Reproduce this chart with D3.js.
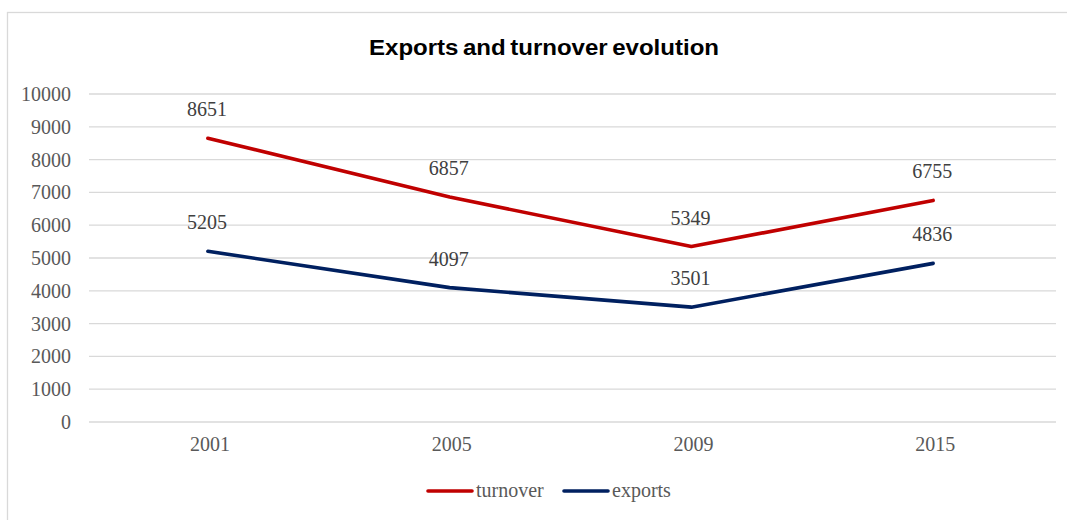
<!DOCTYPE html>
<html>
<head>
<meta charset="utf-8">
<script src="https://cdn.jsdelivr.net/npm/d3@7"></script>
<style>
    body { margin: 0; background: #fff; }
    .axis text { font-family: 'Liberation Serif', serif; font-size: 20px; fill: #595959; }
    .axis path, .axis line { display: none; }
    .grid line { stroke: #d9d9d9; stroke-width: 1.3; }
    .label { font-family: 'Liberation Serif', serif; font-size: 20px; fill: #404040; }
</style>
</head>
<body>
<svg id="chart" width="1067" height="520"></svg>
<script>
const years = ['2001', '2005', '2009', '2015'];
const turnover = [8651, 6857, 5349, 6755];
const exportsData = [5205, 4097, 3501, 4836];
const yTicks = [0, 1000, 2000, 3000, 4000, 5000, 6000, 7000, 8000, 9000, 10000];

const series = [
    { name: 'turnover', values: turnover, color: '#c00000' },
    { name: 'exports', values: exportsData, color: '#002060' }
];

const margin = { top: 94, right: 11, bottom: 98, left: 89 };
const w = 1067;
const h = 520;
const width = w - margin.left - margin.right;
const height = h - margin.top - margin.bottom;

const svg = d3.select('#chart');

// outer frame
svg.append('rect')
    .attr('x', 7.5).attr('y', 12.5)
    .attr('width', 1070).attr('height', 520)
    .attr('fill', 'none')
    .attr('stroke', '#d9d9d9')
    .attr('stroke-width', 1.3);

svg.append('text')
    .attr('x', 369).attr('y', 55)
    .attr('textLength', 350)
    .attr('lengthAdjust', 'spacingAndGlyphs')
    .style('font-family', 'Liberation Sans, Arial, sans-serif')
    .style('font-weight', 'bold')
    .style('font-size', '22px')
    .style('word-spacing', '-2px')
    .attr('fill', '#000')
    .text('Exports and turnover evolution');

const g = svg.append('g').attr('transform', `translate(${margin.left},${margin.top})`);

const x = d3.scaleBand().domain(years).range([0, width]);
const y = d3.scaleLinear().domain([0, 10000]).range([height, 0]);

g.append('g').attr('class', 'grid')
    .selectAll('line')
    .data(yTicks)
    .enter()
    .append('line')
    .attr('x1', 0).attr('x2', width)
    .attr('y1', (d) => y(d)).attr('y2', (d) => y(d));

g.append('g').attr('class', 'axis axis-y')
    .attr('transform', 'translate(-8,0)')
    .call(d3.axisLeft(y).tickValues(yTicks).tickSize(0).tickPadding(10).tickFormat(d3.format('d')));

g.append('g').attr('class', 'axis axis-x')
    .attr('transform', `translate(0,${height})`)
    .call(d3.axisBottom(x).tickSize(0).tickPadding(15));

const line = d3.line()
    .x((d, i) => x(years[i]) + x.bandwidth() / 2 - 2)
    .y((d) => y(d));

series.forEach((s) => {
    g.append('path')
        .datum(s.values)
        .attr('fill', 'none')
        .attr('stroke', s.color)
        .attr('stroke-width', 3.6)
        .attr('stroke-linecap', 'round')
        .attr('stroke-linejoin', 'round')
        .attr('d', line);

    g.selectAll(`.label-${s.name}`)
        .data(s.values)
        .enter()
        .append('text')
        .attr('class', `label label-${s.name}`)
        .attr('text-anchor', 'middle')
        .attr('x', (d, i) => x(years[i]) + x.bandwidth() / 2 - 3)
        .attr('y', (d) => y(d) - 22)
        .text((d) => d);
});

// legend
const legend = svg.append('g');
const legendItems = [
    { s: series[0], x: 428 },
    { s: series[1], x: 564 }
];
legendItems.forEach((it) => {
    legend.append('line')
        .attr('x1', it.x).attr('x2', it.x + 44)
        .attr('y1', 491).attr('y2', 491)
        .attr('stroke', it.s.color)
        .attr('stroke-width', 3.6)
        .attr('stroke-linecap', 'round');
    legend.append('text')
        .attr('x', it.x + 48).attr('y', 497)
        .style('font-family', 'Liberation Serif, serif')
        .style('font-size', '20px')
        .attr('fill', '#595959')
        .text(it.s.name);
});
</script>
</body>
</html>
